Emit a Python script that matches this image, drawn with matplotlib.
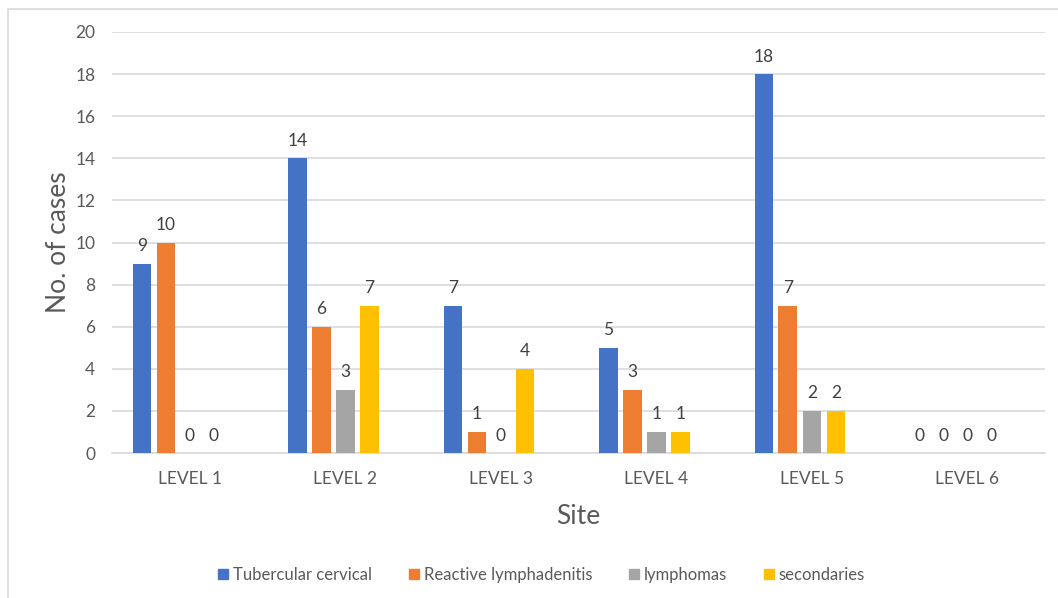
import numpy as np
import matplotlib.pyplot as plt
from matplotlib.lines import Line2D

plt.rcParams['font.family'] = ['Lato', 'DejaVu Sans']

levels = ['LEVEL 1', 'LEVEL 2', 'LEVEL 3', 'LEVEL 4', 'LEVEL 5', 'LEVEL 6']
series_names = ['Tubercular cervical', 'Reactive lymphadenitis', 'lymphomas', 'secondaries']
tubercular = [9, 14, 7, 5, 18, 0]
reactive = [10, 6, 1, 3, 7, 0]
lymphomas = [0, 3, 0, 1, 2, 0]
secondaries = [0, 7, 4, 1, 2, 0]
colors = ['#4472C4', '#ED7D31', '#A5A5A5', '#FFC000']
TEXT = '#595959'

fig = plt.figure(figsize=(10.58, 5.98), dpi=100)
ax = fig.add_axes([112 / 1058, 1 - 453 / 598, 933 / 1058, 421 / 598])

x = np.arange(len(levels))
step = 24 / 155.5
width = 18.5 / 155.5
# excel layout: 5 slots per category (last slot empty), so slot 3 is centred
for i, (vals, name, c) in enumerate(zip([tubercular, reactive, lymphomas, secondaries],
                                        series_names, colors)):
    pos = x + (i - 2) * step
    ax.bar(pos, vals, width=width, color=c, label=name, zorder=3)
    for p, v in zip(pos, vals):
        ax.text(p, v + 0.45, str(v), ha='center', va='bottom', fontsize=12.5, color='#404040')

ax.set_xlim(-0.5, len(levels) - 0.5)
ax.set_ylim(0, 20)
ax.set_yticks(np.arange(0, 21, 2))
ax.set_xticks(x)
ax.set_xticklabels(levels)
ax.tick_params(axis='both', length=0, labelsize=12.5, colors=TEXT)
ax.tick_params(axis='x', pad=13)
ax.tick_params(axis='y', pad=12)
ax.grid(axis='y', color='#D9D9D9', linewidth=1.2, zorder=0)
for s in ['top', 'right', 'left']:
    ax.spines[s].set_visible(False)
ax.spines['bottom'].set_color('#D9D9D9')
ax.spines['bottom'].set_linewidth(1.2)

ax.set_ylabel('No. of cases', fontsize=19, color=TEXT, labelpad=3)
ax.set_xlabel('Site', fontsize=19, color=TEXT, labelpad=12)

handles = [Line2D([], [], marker='s', linestyle='', markersize=7.5, color=c) for c in colors]
fig.legend(handles, series_names, loc='center', bbox_to_anchor=(540 / 1058, 1 - 575 / 598),
           ncol=4, frameon=False, fontsize=12, labelcolor=TEXT,
           handletextpad=0.1, columnspacing=2.0, handlelength=1.0)

# chart border (top and left edges visible)
fig.add_artist(Line2D([8 / 1058, 8 / 1058, 1.0], [0.0, 1 - 9 / 598, 1 - 9 / 598],
                      transform=fig.transFigure, color='#D9D9D9', linewidth=1.2))

fig.savefig('out.png', dpi=100)
